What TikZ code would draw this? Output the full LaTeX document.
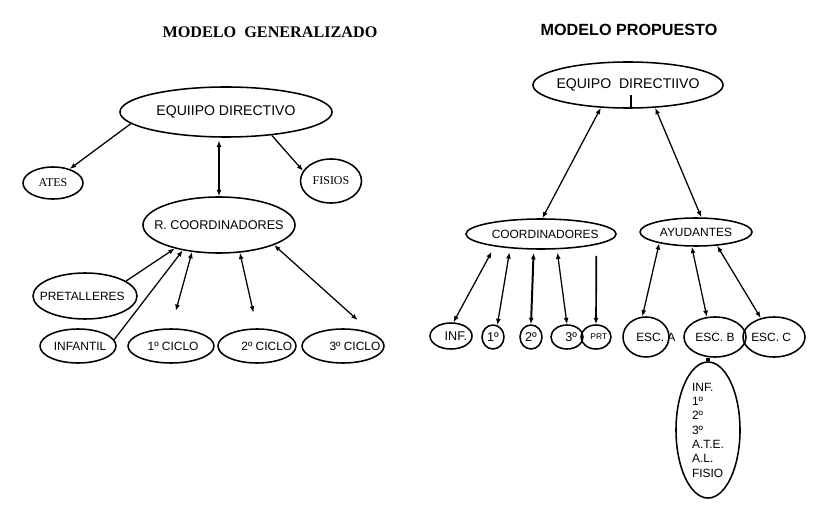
\documentclass[tikz,border=0pt]{standalone}
\usepackage{fontspec}
\setmainfont{Liberation Sans}
\newfontfamily\timesfont{Liberation Serif}
\usetikzlibrary{shapes.geometric,arrows.meta}
% text that does not widen its oval; optional shift (half of it is applied)
\newcommand{\ctext}[2][0pt]{\makebox[0pt]{\hspace*{#1}#2}}

\begin{document}
\begin{tikzpicture}[x=0.025cm,y=-0.025cm,
	oval/.style={draw,ellipse,line width=1.1pt,inner sep=0pt,font=\fontsize{8.5}{10}\selectfont},
	link/.style={line width=0.9pt,{Latex[length=4.5pt,width=3.5pt]}-{Latex[length=4.5pt,width=3.5pt]}},
	tolink/.style={line width=0.9pt,-{Latex[length=4.5pt,width=3.5pt]}}]
	\useasboundingbox (0,0) rectangle (816,518);

	% modelo generalizado
	\node[font=\timesfont\bfseries\fontsize{11.5}{13}\selectfont] (titA) at (270,32) {MODELO\ \ GENERALIZADO};
	\node[oval,minimum width=5.3cm,minimum height=1.25cm,font=\fontsize{10}{12}\selectfont] (eqA) at (226,112) {\ctext{EQUIIPO DIRECTIVO}};
	\node[oval,minimum width=1.5cm,minimum height=0.8cm,font=\timesfont\fontsize{8.5}{10}\selectfont] (ates) at (53,183) {\ctext{ATES}};
	\node[oval,minimum width=1.525cm,minimum height=1.1cm,font=\timesfont\fontsize{8.5}{10}\selectfont] (fisios) at (331,181) {\ctext{FISIOS}};
	\node[oval,minimum width=3.8cm,minimum height=1.4cm,font=\fontsize{9}{11}\selectfont] (rcoord) at (219,225) {\ctext{R. COORDINADORES}};
	\node[oval,minimum width=2.6cm,minimum height=1.15cm] (pretall) at (85,296) {\ctext[-4pt]{PRETALLERES}};
	\node[oval,minimum width=1.9cm,minimum height=0.85cm] (infantil) at (78,346) {\ctext[3pt]{INFANTIL}};
	\node[oval,minimum width=2.15cm,minimum height=0.85cm] (ciclo1) at (171,346) {\ctext[3pt]{1º CICLO}};
	\node[oval,minimum width=1.95cm,minimum height=0.85cm] (ciclo2) at (257,346) {\ctext[14pt]{2º CICLO}};
	\node[oval,minimum width=2.05cm,minimum height=0.85cm] (ciclo3) at (343,346) {\ctext[17pt]{3º CICLO}};

	\draw[tolink] (eqA.187) -- (ates.40);
	\draw[tolink] (eqA.-27) -- (fisios.160);
	\draw[link,shorten <=2pt] (eqA.south -| rcoord.north) -- (rcoord.north);
	\draw[tolink] (pretall.20) -- (rcoord.208);
	\draw[tolink] (infantil.10) -- (rcoord.215);
	\draw[link,shorten >=0.45cm] (rcoord.225) -- (ciclo1.north);
	\draw[link,shorten >=0.4cm] (rcoord.307) -- (ciclo2.north);
	\draw[link,shorten >=0.5cm] (rcoord.-20) -- (ciclo3.north east);

	% modelo propuesto
	\node[font=\bfseries\fontsize{11.5}{13}\selectfont] (titB) at (629,30) {MODELO PROPUESTO};
	\node[oval,minimum width=4.75cm,minimum height=1.15cm,font=\fontsize{10}{12}\selectfont] (eqB) at (628,85) {\ctext{EQUIPO\ \ DIRECTIIVO}};
	\draw[line width=1pt] ([xshift=0.075cm]eqB.south) -- ++(0,-14);
	\node[oval,minimum width=3.75cm,minimum height=0.75cm] (coordB) at (541,234) {\ctext[6pt]{COORDINADORES}};
	\node[oval,minimum width=2.8cm,minimum height=0.7cm] (ayud) at (696,232) {\ctext{AYUDANTES}};
	\node[oval,minimum width=1.05cm,minimum height=0.65cm,font=\fontsize{9}{11}\selectfont] (inf) at (451,336) {\ctext[7pt]{INF.}};
	\node[oval,minimum width=0.55cm,minimum height=0.6cm,font=\fontsize{9}{11}\selectfont] (p1) at (493,337) {\ctext{1º}};
	\node[oval,minimum width=0.55cm,minimum height=0.6cm,font=\fontsize{9}{11}\selectfont] (p2) at (531,337) {\ctext{2º}};
	\node[oval,minimum width=0.8cm,minimum height=0.6cm,font=\fontsize{9}{11}\selectfont] (p3) at (567,337) {\ctext[6pt]{3º}};
	\node[oval,minimum width=0.75cm,minimum height=0.6cm,font=\fontsize{6}{7}\selectfont] (prt) at (596,337) {\ctext[4pt]{PRT}};
	\node[oval,minimum width=1.15cm,minimum height=1cm] (escA) at (646,337) {\ctext[14pt]{ESC. A}};
	\node[oval,minimum width=1.55cm,minimum height=1cm] (escB) at (715,337) {\ctext{ESC. B}};
	\node[oval,minimum width=1.55cm,minimum height=1cm] (escC) at (774,337) {\ctext[-4pt]{ESC. C}};
	\node[oval,minimum width=1.6cm,minimum height=3.4cm,align=left,font=\fontsize{8.5}{10.2}\selectfont] (lista) at (708,430) {INF.\\1º\\2º\\3º\\A.T.E.\\A.L.\\FISIO};

	\draw[link] (eqB.220) -- (coordB.85);
	\draw[link] (eqB.-40) -- (ayud.70);
	\draw[link,shorten <=0.15cm] (coordB.195) -- (inf.80);
	\draw[link,shorten <=0.1cm] (coordB.205) -- (p1.70);
	\draw[link,line width=1.4pt,shorten <=0.08cm] (coordB.245) -- (p2.north);
	\draw[link,shorten <=0.08cm] (coordB.316) -- (p3.north);
	\draw[tolink,line width=1.2pt,shorten <=0.28cm] (coordB.349) -- (prt.north);
	\draw[link] (ayud.197) -- (escA.100);
	\draw[link] (ayud.254) -- (escB.112);
	\draw[link] (ayud.-33) -- (escC.125);
	\draw[line width=3pt] (escB.south -| lista.north) -- (lista.north);
\end{tikzpicture}
\end{document}
